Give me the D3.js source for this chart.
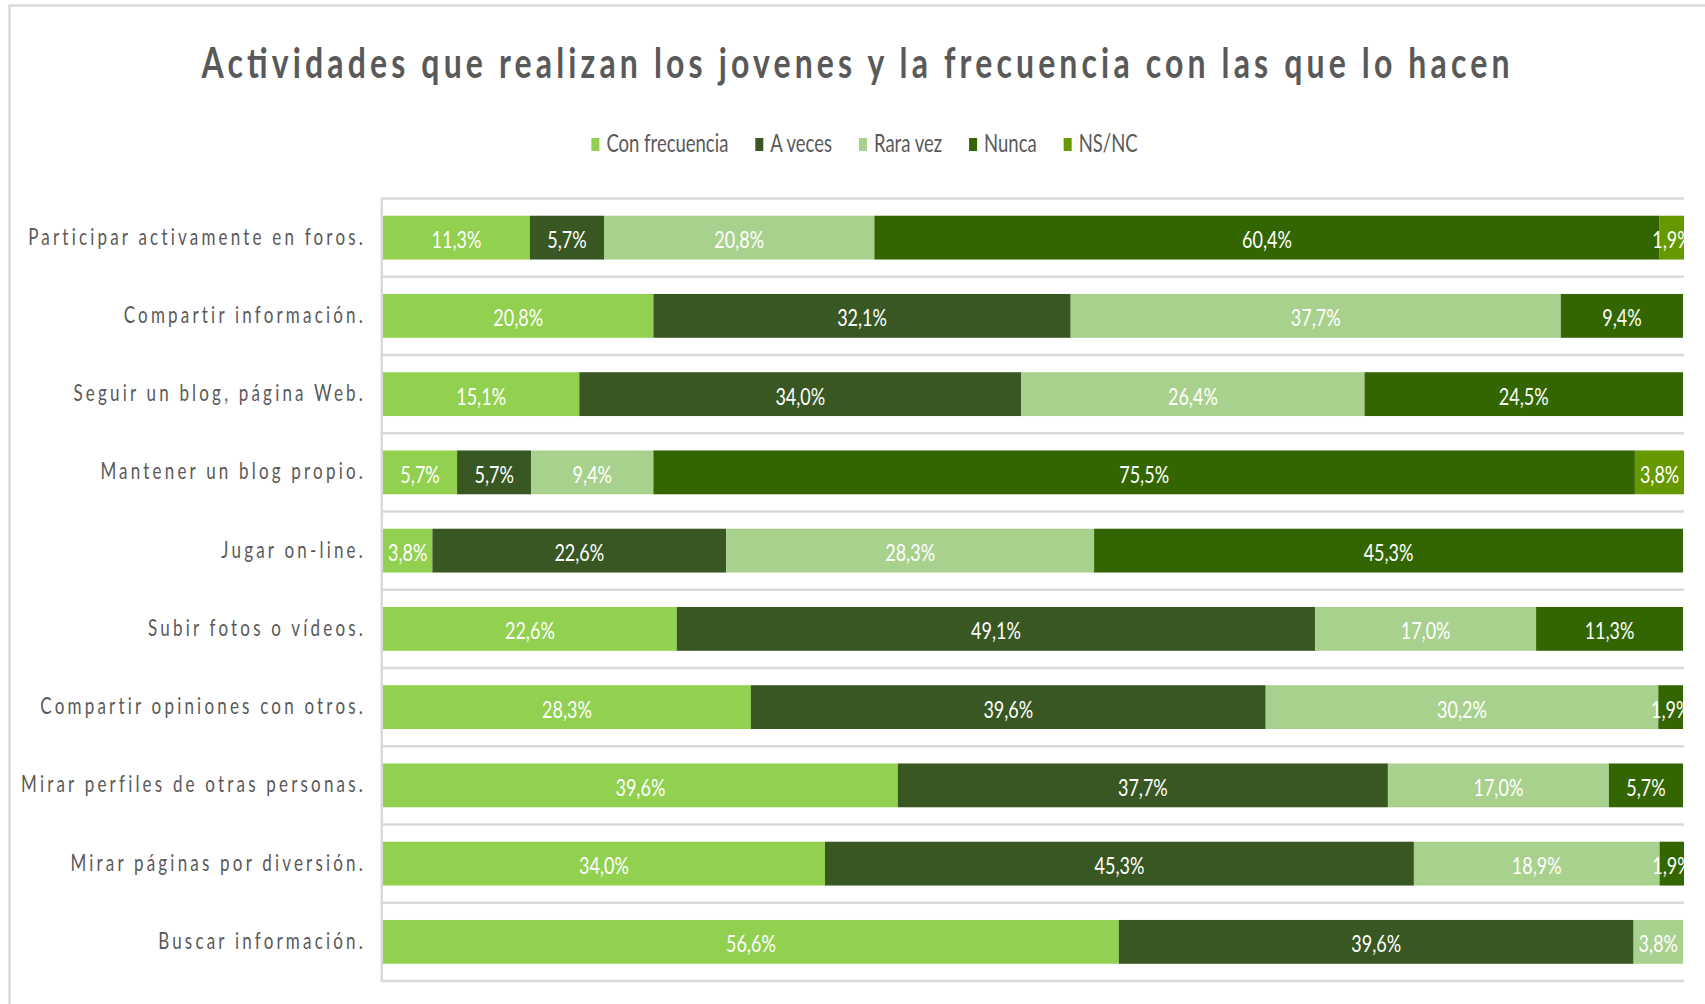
<!DOCTYPE html>
<html>
<head>
<meta charset="utf-8">
<script src="https://cdn.jsdelivr.net/npm/d3@7"></script>
<style>
  body { margin: 0; background: #fff; }
  svg { display: block; }
  text { font-family: Lato, "Open Sans", sans-serif; }
</style>
</head>
<body>
<script>
// data
const categories = [
    "Participar activamente en foros.",
    "Compartir información.",
    "Seguir un blog, página Web.",
    "Mantener un blog propio.",
    "Jugar on-line.",
    "Subir fotos o vídeos.",
    "Compartir opiniones con otros.",
    "Mirar perfiles de otras personas.",
    "Mirar páginas por diversión.",
    "Buscar información."
];
const seriesNames = ["Con frecuencia", "A veces", "Rara vez", "Nunca", "NS/NC"];
const conFrecuencia = [11.3, 20.8, 15.1, 5.7, 3.8, 22.6, 28.3, 39.6, 34.0, 56.6];
const aVeces        = [5.7, 32.1, 34.0, 5.7, 22.6, 49.1, 39.6, 37.7, 45.3, 39.6];
const raraVez       = [20.8, 37.7, 26.4, 9.4, 28.3, 17.0, 30.2, 17.0, 18.9, 3.8];
const nunca         = [60.4, 9.4, 24.5, 75.5, 45.3, 11.3, 1.9, 5.7, 1.9, 0];
const nsnc          = [1.9, 0, 0, 3.8, 0, 0, 0, 0, 0, 0];
const colors = ["#92D050", "#385723", "#A9D18E", "#336600", "#669900"];
const title = "Actividades que realizan los jovenes y la frecuencia con las que lo hacen";

const width = 1705, height = 1004;
const margin = {top: 198.5, right: 22, bottom: 23, left: 383};
const stretch = 1.3;   // text in the picture is drawn tall and narrow

let rows = categories.map((c, i) => ({
    cat: c,
    "Con frecuencia": conFrecuencia[i],
    "A veces": aVeces[i],
    "Rara vez": raraVez[i],
    "Nunca": nunca[i],
    "NS/NC": nsnc[i]
}));

let stacked = d3.stack().keys(seriesNames)(rows);

let x = d3.scaleLinear()
    .domain([0, 100])
    .range([margin.left, 1683]);

let y = d3.scaleBand()
    .domain(categories)
    .range([margin.top, height - margin.bottom])
    .paddingInner(0.44)
    .paddingOuter(0.22);

let color = d3.scaleOrdinal()
    .domain(seriesNames)
    .range(colors);

let fmt = v => d3.format(".1f")(v).replace(".", ",") + "%";

let svg = d3.select("body").append("svg")
    .attr("width", width)
    .attr("height", height);

svg.append("defs").append("clipPath")
    .attr("id", "plotClip")
    .append("rect")
    .attr("x", 0).attr("y", 0)
    .attr("width", 1684).attr("height", height);

// outer chart border (cropped on right and bottom)
svg.append("rect")
    .attr("x", 9.5).attr("y", 5.5)
    .attr("width", width + 50).attr("height", height + 50)
    .attr("fill", "none")
    .attr("stroke", "#d9d9d9")
    .attr("stroke-width", 2.5);

// title
svg.append("text")
    .attr("transform", "translate(855.5,78.3) scale(1," + stretch + ")")
    .attr("text-anchor", "middle")
    .attr("textLength", 1308)
    .attr("lengthAdjust", "spacing")
    .style("font-size", "32px")
    .style("font-weight", "bold")
    .style("fill", "#595959")
    .text(title);

// legend
let legend = svg.append("g").attr("class", "legend");
let lx = 0;
const itemGap = 27;
seriesNames.forEach(function(name) {
    let item = legend.append("g").attr("transform", "translate(" + lx + ",0)");
    item.append("rect")
        .attr("x", 0).attr("y", 138)
        .attr("width", 8).attr("height", 13)
        .attr("fill", color(name));
    let t = item.append("text")
        .attr("transform", "translate(15,151.7) scale(1," + stretch + ")")
        .style("font-size", "18.5px")
        .style("fill", "#595959")
        .text(name);
    lx += 15 + t.node().getComputedTextLength() + itemGap;
});
lx -= itemGap;
legend.attr("transform", "translate(" + (864.5 - lx / 2) + ",0)");

let plot = svg.append("g").attr("clip-path", "url(#plotClip)");

// gridlines between categories
let bounds = categories.map(c => y(c) - y.step() * y.paddingInner() / 2);
bounds.push(height - margin.bottom);
bounds[0] = margin.top;
plot.selectAll(".grid")
    .data(bounds)
    .enter().append("line")
    .attr("class", "grid")
    .attr("x1", margin.left).attr("x2", 1686)
    .attr("y1", d => d).attr("y2", d => d)
    .attr("stroke", "#d9d9d9")
    .attr("stroke-width", 2.5);

// bars
let layers = plot.selectAll(".layer")
    .data(stacked)
    .enter().append("g")
    .attr("class", "layer")
    .attr("fill", d => color(d.key));

layers.selectAll("rect")
    .data(d => d.filter(s => s[1] - s[0] > 0))
    .enter().append("rect")
    .attr("x", d => x(d[0]))
    .attr("width", d => x(d[1]) - x(d[0]))
    .attr("y", d => y(d.data.cat))
    .attr("height", y.bandwidth());

// value labels
let labels = plot.selectAll(".vlabels")
    .data(stacked)
    .enter().append("g")
    .attr("class", "vlabels");

labels.selectAll("text")
    .data(d => d.filter(s => s[1] - s[0] > 0).map(s => ({s: s, v: s.data[d.key]})))
    .enter().append("text")
    .attr("transform", d => "translate(" + x((d.s[0] + d.s[1]) / 2) + "," +
        (y(d.s.data.cat) + y.bandwidth() / 2 + 10.5) + ") scale(1," + stretch + ")")
    .attr("text-anchor", "middle")
    .style("font-size", "18px")
    .style("fill", "#ffffff")
    .text(d => fmt(d.v));

// left axis line
svg.append("line")
    .attr("x1", margin.left - 1.2).attr("x2", margin.left - 1.2)
    .attr("y1", margin.top - 1).attr("y2", height - margin.bottom + 1)
    .attr("stroke", "#d9d9d9")
    .attr("stroke-width", 2.5);

// category labels
svg.selectAll(".cat")
    .data(categories)
    .enter().append("text")
    .attr("class", "cat")
    .attr("transform", d => "translate(366," + (y(d) + y.bandwidth() / 2 + 7) + ") scale(1," + stretch + ")")
    .attr("text-anchor", "end")
    .style("font-size", "17px")
    .style("letter-spacing", "3.2px")
    .style("fill", "#595959")
    .text(d => d);
</script>
</body>
</html>
